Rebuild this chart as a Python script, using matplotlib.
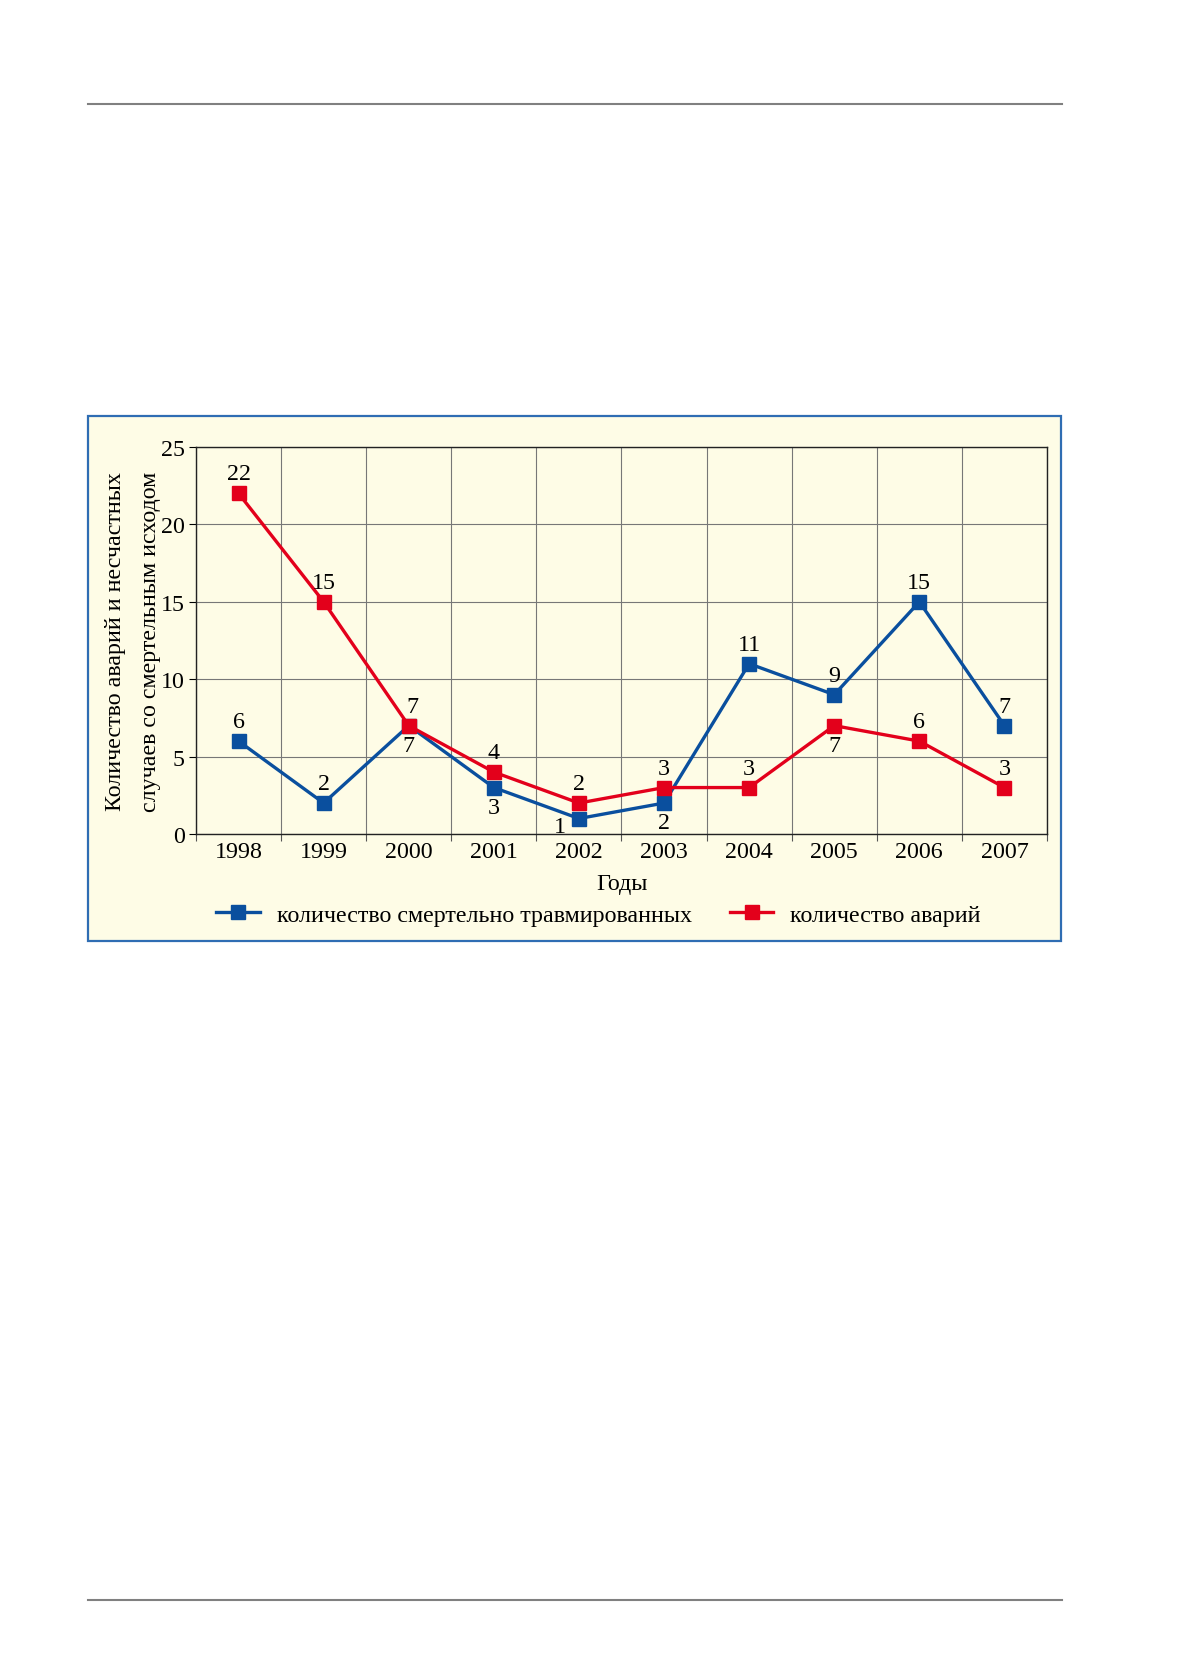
import numpy as np
from matplotlib import pyplot as plt
from matplotlib.patches import Rectangle
from matplotlib.lines import Line2D

plt.rcParams['font.family'] = ['Liberation Serif', 'DejaVu Serif']

years = ['1998', '1999', '2000', '2001', '2002', '2003', '2004', '2005', '2006', '2007']
killed = [6, 2, 7, 3, 1, 2, 11, 9, 15, 7]
accidents = [22, 15, 7, 4, 2, 3, 3, 7, 6, 3]
# where the value label sits: 1 above the marker, -1 below
killed_pos = [1, 1, -1, -1, -1, -1, 1, 1, 1, 1]
accidents_pos = [1, 1, 1, 1, 1, 1, 1, -1, 1, 1]

label_killed = 'количество смертельно травмированных'
label_acc = 'количество аварий'
ylabel = 'Количество аварий и несчастных\nслучаев со смертельным исходом'

blue = '#0a4f9e'
red = '#e3001b'
bg = '#fefce6'
fs = 17.3

W, H = 1179, 1681
fig = plt.figure(figsize=(W / 100, H / 100), dpi=100)

# page rules
fig.add_artist(Line2D([88 / W, 1062 / W], [1 - 105 / H, 1 - 105 / H], color='#808080', lw=1.5))
fig.add_artist(Line2D([88 / W, 1062 / W], [1 - 1601 / H, 1 - 1601 / H], color='#808080', lw=1.5))

# chart frame
fig.add_artist(Rectangle((88 / W, 1 - 942 / H), 973 / W, 525 / H, facecolor=bg,
                         edgecolor='#2f6db3', lw=1.6, zorder=0))

ax = fig.add_axes([196 / W, 1 - 835 / H, 851 / W, 387 / H])
ax.set_facecolor(bg)
x = np.arange(len(years))
ax.set_xlim(-0.5, len(years) - 0.5)
ax.set_ylim(0, 25)

ax.set_yticks([0, 5, 10, 15, 20, 25])
ax.set_xticks(x)
ax.set_xticklabels(years)
ax.set_xticks(np.arange(-0.5, len(years), 1), minor=True)
ax.tick_params(axis='x', which='major', length=0, pad=5, labelsize=fs)
ax.tick_params(axis='x', which='minor', length=5, width=0.8, color='#555555')
ax.tick_params(axis='y', length=5, width=0.8, pad=3, labelsize=fs)

ax.grid(True, axis='y', which='major', color='#777777', lw=0.8)
ax.grid(True, axis='x', which='minor', color='#777777', lw=0.8)
ax.set_axisbelow(True)
for s in ax.spines.values():
    s.set_linewidth(1.0)
    s.set_color('#222222')

ax.plot(x, killed, color=blue, lw=2.4, marker='s', ms=10, label=label_killed, zorder=3)
ax.plot(x, accidents, color=red, lw=2.4, marker='s', ms=10, label=label_acc, zorder=3)

for xi, v, p in zip(x, killed, killed_pos):
    off = (-14, -6) if v == 1 else (0, 14 * p)
    ax.annotate(str(v), (xi, v), xytext=off, textcoords='offset points',
                ha='center', va='center', fontsize=fs)
for xi, v, p in zip(x, accidents, accidents_pos):
    dx = 3 if (v == 7 and p == 1) else 0
    ax.annotate(str(v), (xi, v), xytext=(dx, 14 * p), textcoords='offset points',
                ha='center', va='center', fontsize=fs)

ax.set_xlabel('Годы', fontsize=fs, labelpad=8)
ax.set_ylabel(ylabel, fontsize=fs, labelpad=0, linespacing=1.85)

leg = ax.legend(loc='upper center', bbox_to_anchor=(0.473, -0.125), ncol=2, frameon=False,
                fontsize=fs, handlelength=1.8, handletextpad=0.7, columnspacing=1.6)

fig.savefig('out.png', dpi=100, facecolor='white')
